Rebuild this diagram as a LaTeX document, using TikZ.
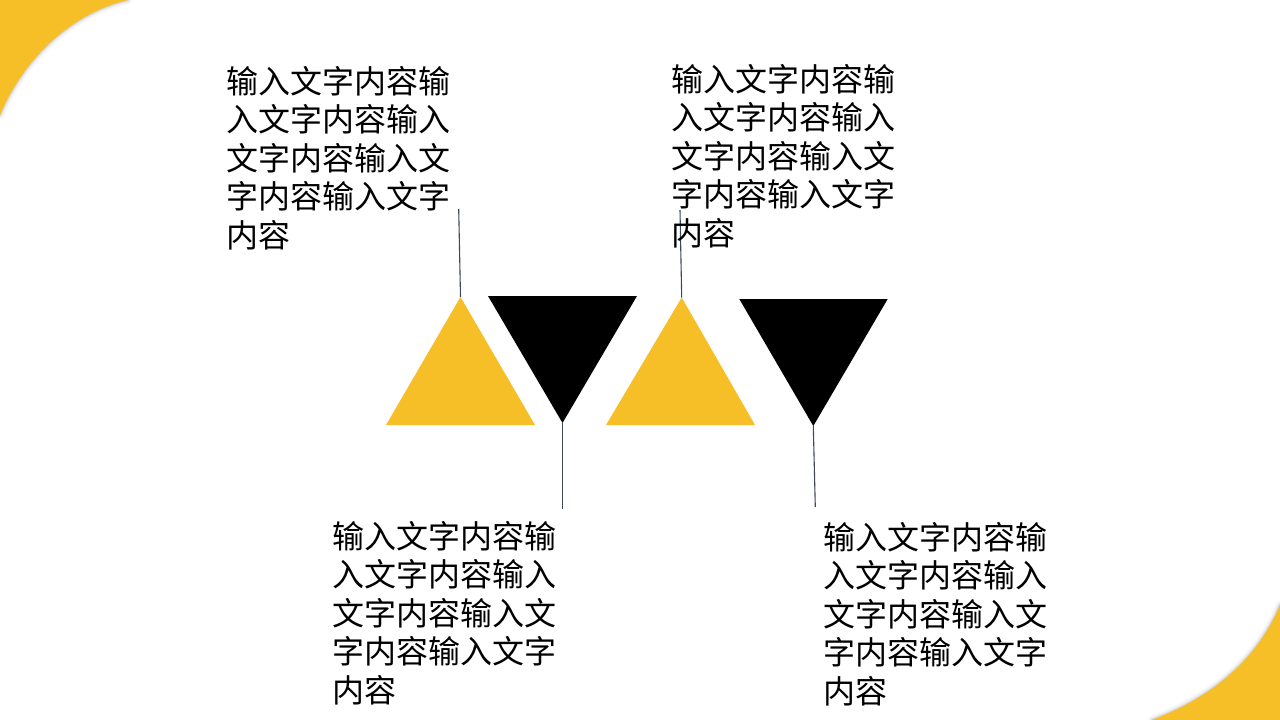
\documentclass[tikz,border=0pt]{standalone}
\usepackage{fontspec}
\newfontfamily\cjk{Noto Sans CJK SC}
\definecolor{accent}{RGB}{246,191,40}
\definecolor{leader}{RGB}{62,72,88}
\begin{document}
\begin{tikzpicture}[x=1pt,y=-1pt,
  txt/.style={anchor=north west,inner sep=0pt,align=left,text=black,
    font=\cjk\fontsize{32}{38.5}\selectfont},
  leaderline/.style={draw=leader,line width=1.1pt},
  glow/.style={draw=black,line cap=round}]
\useasboundingbox (0,0) rectangle (1280,720);
\fill[white] (0,0) rectangle (1280,720);
% corner shapes with soft shadow
\foreach \w/\o in {9/0.025,6/0.035,3.5/0.05,1.5/0.07}{
  \draw[glow,line width=\w pt,opacity=\o] (128,0) .. controls (75,12) and (25,55) .. (0,115);
  \draw[glow,line width=\w pt,opacity=\o] (1280,605) .. controls (1255,665) and (1205,700) .. (1152,720);
}
\fill[accent] (0,0) -- (128,0) .. controls (75,12) and (25,55) .. (0,115) -- cycle;
\fill[accent] (1280,720) -- (1280,605) .. controls (1255,665) and (1205,700) .. (1152,720) -- cycle;
% triangles
\coordinate (t1) at (460.5,297);
\coordinate (t2) at (562.5,423);
\coordinate (t3) at (681.7,297.5);
\coordinate (t4) at (813.3,426);
\fill[accent] (386,425) -- (t1) -- (535,425) -- cycle;
\fill[black] (488,296) -- (637,296) -- (t2) -- cycle;
\fill[accent] (606,425) -- (t3) -- (755,425) -- cycle;
\fill[black] (739.3,299) -- (887.7,299) -- (t4) -- cycle;
% leader ends
\coordinate (e1) at (458.7,209);
\coordinate (e2) at (562.5,509);
\coordinate (e3) at (680,210);
\coordinate (e4) at (815.3,507);
\draw[leaderline] (e1) -- (t1);
\draw[leaderline] (t2) -- (e2);
\draw[leaderline] (e3) -- (t3);
\draw[leaderline] (t4) -- (e4);
% texts
\node[txt] (b1) at (226.5,66) {输入文字内容输\\入文字内容输入\\文字内容输入文\\字内容输入文字\\内容};
\node[txt] (b2) at (671.5,64) {输入文字内容输\\入文字内容输入\\文字内容输入文\\字内容输入文字\\内容};
\node[txt] (b3) at (332.5,521) {输入文字内容输\\入文字内容输入\\文字内容输入文\\字内容输入文字\\内容};
\node[txt] (b4) at (823.5,522) {输入文字内容输\\入文字内容输入\\文字内容输入文\\字内容输入文字\\内容};
\end{tikzpicture}
\end{document}
